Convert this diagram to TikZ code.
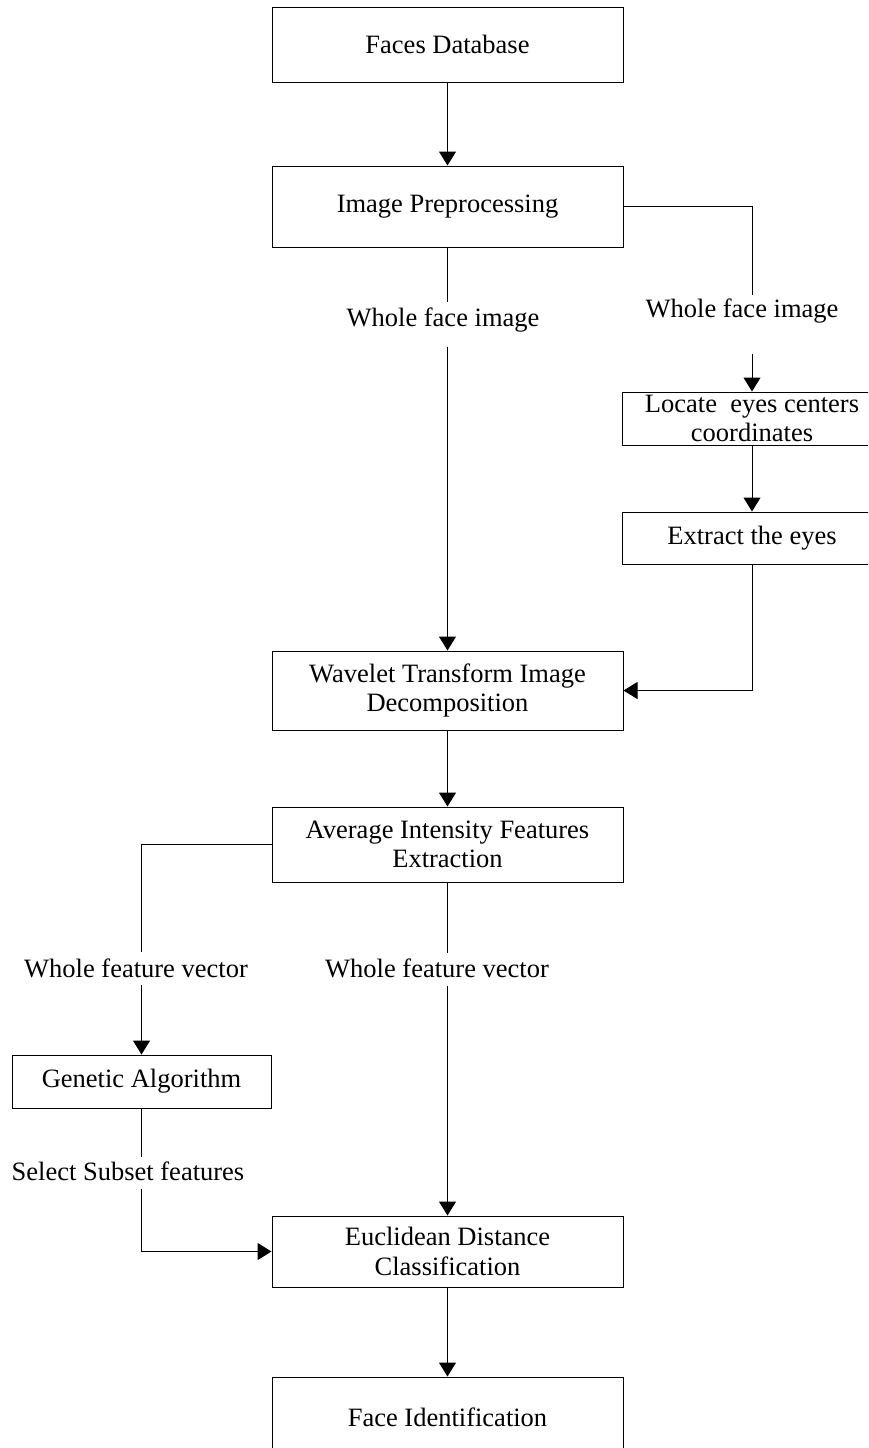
\documentclass[tikz,border=0pt]{standalone}
\usepackage{fontspec}
\setmainfont{Liberation Serif}
\usetikzlibrary{arrows.meta}
\begin{document}
\begin{tikzpicture}[x=1pt, y=-1pt, line width=1pt, >={Triangle[width=17pt,length=14pt]},
  box/.style={draw, rectangle, inner sep=0pt, minimum width=351pt, align=center},
  lbl/.style={inner sep=0pt, anchor=base, text height=24pt, text depth=8pt}]
\useasboundingbox (0,0) rectangle (868,1448);
\clip (0,0) rectangle (868,1448);
\begin{scope}[every node/.style={font=\fontsize{26.5}{29.5}\selectfont}]
\node [box, minimum height=75pt] (fdb) at (447.5,44.5) {Faces Database};
\node [box, minimum height=81pt] (pre) at (447.5,206.5) {Image Preprocessing};
\node [lbl, text depth=20pt] (wf1) at (443,326) {Whole face image};
\node [lbl, text height=22pt, text depth=36pt] (wf2) at (742,317) {Whole face image};
\node [box, minimum width=260pt, minimum height=53pt] (loc) at (752,418.5) {Locate \ eyes centers\\coordinates};
\node [box, minimum width=260pt, minimum height=52pt] (ext) at (752,538) {Extract the eyes};
\node [box, minimum height=79pt] (wav) at (447.5,690.5) {Wavelet Transform Image\\Decomposition};
\node [box, minimum height=75pt] (avg) at (447.5,844.5) {Average Intensity Features\\Extraction};
\node [lbl, text height=25pt, text depth=7pt] (wv1) at (136,977) {Whole feature vector};
\node [lbl] (wv2) at (437,977) {Whole feature vector};
\node [box, minimum width=259pt, minimum height=53pt] (gen) at (141.5,1081.5) {Genetic Algorithm};
\node [lbl, text height=23pt, text depth=8pt] (sub) at (128,1180) {Select Subset features};
\node [box, minimum height=71pt] (euc) at (447.5,1251.5) {Euclidean Distance\\Classification};
\node [box, minimum height=80pt] (fid) at (447.5,1417) {Face Identification};
\end{scope}
\draw [->] (fdb) -- (pre);
\draw (pre.south) -- (pre.south |- wf1.north);
\draw [->] (pre.south |- wf1.south) -- (wav.north);
\draw (pre.east) -| (wf2.north -| loc.north);
\draw [->] (wf2.south -| loc.north) -- (loc.north);
\draw [->] (loc) -- (ext);
\draw [->] (ext.south) |- (wav.east);
\draw [->] (wav) -- (avg);
\draw (avg.west) -| (wv1.north -| gen.north);
\draw [->] (wv1.south -| gen.north) -- (gen.north);
\draw (gen.south) -- (sub.north -| gen.south);
\draw [->] (sub.south -| gen.south) |- (euc.west);
\draw (avg.south) -- (wv2.north -| avg.south);
\draw [->] (wv2.south -| avg.south) -- (euc.north);
\draw [->] (euc) -- (fid);
\end{tikzpicture}
\end{document}
